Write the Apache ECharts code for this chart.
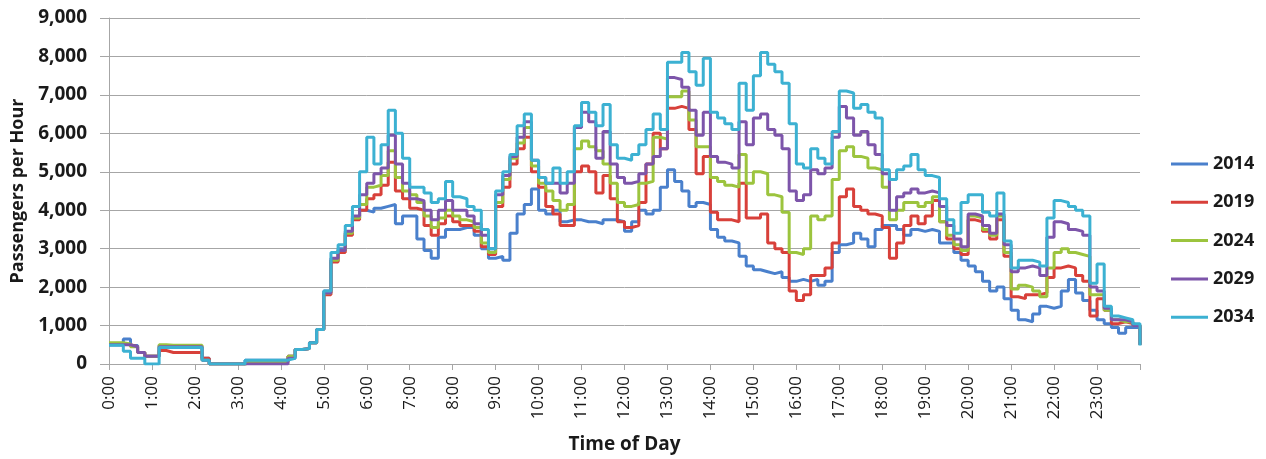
<!DOCTYPE html>
<html>
<head>
<meta charset="utf-8">
<script src="https://cdn.jsdelivr.net/npm/echarts@6/dist/echarts.min.js"></script>
<style>
html,body{margin:0;padding:0;background:#fff;}
#chart{width:1266px;height:459px;}
</style>
</head>
<body>
<div id="chart"></div>
<script>
// Time of day in 10-minute steps, 0:00 .. 24:00 (145 points)
const timeLabels = [];
for (let i = 0; i <= 144; i++) {
  const h = Math.floor(i / 6), m = (i % 6) * 10;
  timeLabels.push(h + ':' + (m < 10 ? '0' + m : m));
}
const yTicks = [0, 1000, 2000, 3000, 4000, 5000, 6000, 7000, 8000, 9000];
const seriesNames = ['2014', '2019', '2024', '2029', '2034'];

const y2014 = [
  500, 500, 650, 480, 300, 200,
  200, 480, 450, 450, 450, 450,
  450, 150, 0, 0, 0, 0,
  0, 100, 100, 100, 100, 100,
  100, 200, 380, 400, 550, 900,
  1900, 2700, 3000, 3400, 3800, 4000,
  3950, 4050, 4100, 4150, 3650, 3850,
  3850, 3250, 2950, 2750, 3300, 3500,
  3500, 3550, 3550, 3350, 3000, 2750,
  2800, 2700, 3400, 3900, 4150, 4550,
  4000, 3900, 4000, 3700, 3750, 3750,
  3700, 3700, 3650, 3750, 3750, 3700,
  3450, 3700, 4000, 3900, 4000, 4600,
  5050, 4750, 4500, 4100, 4200, 4150,
  3500, 3300, 3200, 3150, 2800, 2550,
  2450, 2400, 2350, 2400, 2250, 2150,
  2200, 2150, 2200, 2050, 2150, 2900,
  3100, 3150, 3400, 3250, 3050, 3500,
  3600, 3600, 3500, 3350, 3500, 3450,
  3500, 3450, 3150, 3150, 2900, 2700,
  2550, 2400, 2150, 1900, 2000, 1700,
  1400, 1150, 1100, 1300, 1500, 1450,
  1500, 1900, 2200, 1850, 1650, 1400,
  1150, 1050, 950, 800, 950, 950,
  500
];
const y2019 = [
  530, 520, 500, 450, 300, 200,
  200, 350, 300, 300, 300, 300,
  300, 150, 0, 0, 0, 0,
  0, 50, 50, 50, 50, 50,
  50, 200, 380, 400, 550, 900,
  1800, 2650, 2900, 3350, 3750, 4000,
  4300, 4400, 4650, 5250, 4500, 4300,
  4050, 4000, 3600, 3350, 3650, 3850,
  3700, 3600, 3600, 3450, 3050, 2850,
  4100, 4600, 5200, 5600, 5900, 5000,
  4600, 4100, 3900, 3600, 3600, 5000,
  5150, 5000, 4450, 4900, 4300, 3700,
  3550, 3600, 4200, 5200, 6000, 5600,
  6650, 6700, 6650, 6100, 4950, 5400,
  3950, 3750, 3750, 3700, 4700, 3800,
  3800, 3900, 3150, 3000, 2900, 1900,
  1650, 1800, 2300, 2300, 2500, 3150,
  4350, 4550, 4100, 4000, 3900, 3850,
  3550, 2750, 3150, 3600, 3850, 3650,
  3850, 4250, 3700, 3250, 3000, 2850,
  3750, 3700, 3450, 3250, 3750, 2800,
  1750, 1700, 1800, 1800, 1850, 2250,
  2500, 2550, 2500, 2300, 2150, 1250,
  1700, 1400, 1050, 1100, 1050, 1000,
  500
];
const y2024 = [
  550, 550, 520, 450, 300, 200,
  200, 500, 490, 490, 490, 490,
  490, 100, 0, 0, 0, 0,
  0, 50, 50, 50, 50, 50,
  50, 200, 380, 400, 550, 900,
  1850, 2700, 2950, 3400, 3800, 4150,
  4600, 4650, 4900, 5550, 4850, 4500,
  4400, 4200, 3850, 3550, 3800, 4000,
  3850, 3750, 3700, 3550, 3150, 2900,
  4200, 4800, 5350, 5750, 6150, 5150,
  4700, 4500, 4250, 4000, 4150, 5600,
  5800, 5650, 5550, 5200, 4700, 4200,
  4100, 4150, 4700, 4750, 5900, 5850,
  6950, 6950, 7100, 6350, 5650, 5650,
  4850, 4750, 4650, 4600, 5450, 4700,
  5000, 4950, 4400, 4350, 3950, 2900,
  2850, 3000, 3850, 3750, 3850, 4800,
  5550, 5650, 5400, 5350, 5100, 5050,
  4600, 3750, 4000, 4200, 4200, 4100,
  4200, 4350, 3700, 3350, 3100, 2950,
  3850, 3800, 3500, 3350, 3850, 2900,
  1950, 2050, 2000, 1900, 1750, 2500,
  2900, 3000, 2900, 2850, 2800, 1800,
  1800, 1400, 1150, 1100, 1100, 1000,
  500
];
const y2029 = [
  500, 500, 500, 450, 300, 200,
  200, 450, 450, 450, 450, 450,
  450, 100, 0, 0, 0, 0,
  0, 0, 0, 0, 0, 0,
  0, 150, 380, 400, 550, 900,
  1850, 2750, 2950, 3450, 3850, 4400,
  4700, 4950, 5100, 5950, 5200, 4700,
  4300, 4250, 4000, 3750, 4000, 4250,
  4000, 4000, 3850, 3650, 3350, 3000,
  4400, 4900, 5400, 5900, 6300, 5300,
  4850, 4700, 4700, 4450, 4700, 6150,
  6550, 6300, 5350, 6050, 5200, 4850,
  4700, 4750, 4950, 5200, 5400, 5600,
  7450, 7400, 7200, 6600, 5950, 6550,
  5400, 5250, 5200, 5100, 6300, 5700,
  6400, 6500, 6100, 5950, 5600, 4500,
  4250, 4400, 5050, 4950, 5100, 5900,
  6700, 6400, 5950, 6050, 5700, 5450,
  4950, 4000, 4350, 4450, 4550, 4450,
  4500, 4450, 4100, 3600, 3250, 3050,
  3900, 3850, 3600, 3400, 3900, 3100,
  2400, 2500, 2550, 2500, 2300, 3300,
  3700, 3650, 3500, 3450, 3350, 2000,
  1900, 1450, 1150, 1150, 1100, 1000,
  500
];
const y2034 = [
  490, 490, 330, 150, 150, 0,
  0, 430, 430, 430, 430, 430,
  430, 100, 0, 0, 0, 0,
  0, 100, 100, 100, 100, 100,
  100, 150, 380, 400, 550, 900,
  1900, 2900, 3100, 3600, 4100, 5000,
  5900, 5200, 5700, 6600, 6000, 5350,
  4600, 4600, 4450, 4200, 4300, 4750,
  4350, 4300, 4100, 4000, 3500, 3000,
  4500, 5000, 5450, 6200, 6500, 5300,
  4850, 4700, 5100, 4700, 5000, 6200,
  6800, 6550, 6200, 6750, 5700, 5350,
  5300, 5450, 5700, 6100, 6500, 6100,
  7850, 7850, 8100, 7600, 7250, 7950,
  6550, 6400, 6250, 6100, 7300, 6600,
  7500, 8100, 7800, 7600, 7300, 6250,
  5200, 5100, 5600, 5350, 5200, 6050,
  7100, 7050, 6650, 6750, 6550, 6400,
  5050, 4800, 5050, 5150, 5450, 5050,
  4900, 4850, 4300, 3750, 3400, 4200,
  4400, 4400, 3950, 3850, 4450, 3200,
  2500, 2700, 2700, 2650, 2550, 3800,
  4250, 4200, 4100, 4000, 3850, 2100,
  2600, 1500, 1250, 1200, 1150, 1050,
  480
];

const seriesData = [y2014, y2019, y2024, y2029, y2034];
const colors = ['#4a80cc', '#d8403a', '#9cc43e', '#7d55aa', '#3cb1d2'];
const FONT = '"Open Sans", "DejaVu Sans", sans-serif';
const GRID = '#a6a6a6';

const chart = echarts.init(document.getElementById('chart'), null, {renderer: 'canvas'});
chart.setOption({
  animation: false,
  backgroundColor: '#ffffff',
  color: colors,
  grid: {left: 109, right: 126, top: 18, bottom: 88, containLabel: false},
  legend: {
    orient: 'vertical',
    left: 1166,
    top: 149,
    itemWidth: 37,
    itemHeight: 3,
    itemGap: 18.3,
    icon: 'rect',
    data: seriesNames,
    textStyle: {fontFamily: FONT, fontSize: 18, fontWeight: 'bold', color: '#1a1a1a', lineHeight: 20}
  },
  xAxis: {
    type: 'category',
    data: timeLabels,
    boundaryGap: false,
    name: 'Time of Day',
    nameLocation: 'middle',
    nameGap: 71,
    nameTextStyle: {fontFamily: FONT, fontSize: 19, fontWeight: 'bold', color: '#1a1a1a'},
    axisLine: {show: true, lineStyle: {color: GRID, width: 1}},
    axisTick: {show: true, length: 6, interval: (i) => i % 6 === 0, lineStyle: {color: GRID}},
    axisLabel: {
      interval: (i) => i % 6 === 0 && i < 144,
      rotate: 90,
      margin: 12,
      fontFamily: FONT,
      fontSize: 17,
      color: '#1a1a1a'
    },
    splitLine: {show: false}
  },
  yAxis: {
    type: 'value',
    min: yTicks[0],
    max: yTicks[yTicks.length - 1],
    interval: 1000,
    name: 'Passengers per Hour',
    nameLocation: 'middle',
    nameGap: 80,
    nameTextStyle: {fontFamily: FONT, fontSize: 18, fontWeight: 'bold', color: '#1a1a1a'},
    axisLine: {show: true, lineStyle: {color: GRID, width: 1}},
    axisTick: {show: true, length: 9, lineStyle: {color: GRID}},
    axisLabel: {
      margin: 22,
      fontFamily: FONT,
      fontSize: 19,
      fontWeight: 'bold',
      color: '#1a1a1a',
      formatter: (v) => v.toLocaleString('en-US')
    },
    splitLine: {show: true, lineStyle: {color: GRID, width: 1}}
  },
  series: seriesNames.map((n, k) => ({
    name: n,
    type: 'line',
    step: 'end',
    data: seriesData[k],
    showSymbol: false,
    symbol: 'none',
    lineStyle: {width: 3, color: colors[k]},
    itemStyle: {color: colors[k]},
    z: 2 + k
  }))
});
</script>
</body>
</html>
